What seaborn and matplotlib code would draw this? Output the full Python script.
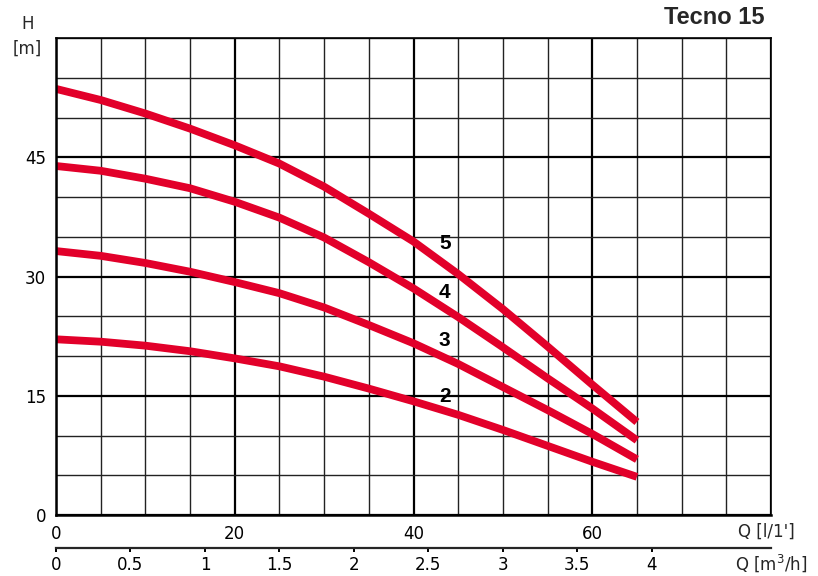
import matplotlib
matplotlib.use("Agg")
import matplotlib.pyplot as plt
import matplotlib.transforms as mtransforms
import seaborn as sns
import pandas as pd

# ---- data ----
flow_lpm = [0, 5, 10, 15, 20, 25, 30, 35, 40, 45, 50, 55, 60, 65]
head_5 = [53.6, 52.2, 50.5, 48.6, 46.5, 44.2, 41.3, 37.9, 34.4, 30.3, 25.9, 21.2, 16.4, 11.7]
head_4 = [43.9, 43.3, 42.3, 41.1, 39.4, 37.4, 34.9, 31.8, 28.5, 24.9, 21.1, 17.2, 13.4, 9.4]
head_3 = [33.2, 32.6, 31.7, 30.6, 29.3, 27.9, 26.1, 23.9, 21.6, 19.0, 16.1, 13.2, 10.2, 7.0]
head_2 = [22.1, 21.8, 21.3, 20.6, 19.7, 18.7, 17.4, 15.9, 14.3, 12.6, 10.7, 8.7, 6.7, 4.8]
curve_names = ["5", "4", "3", "2"]
x_ticks_lpm = [0, 20, 40, 60, 80]
x_tick_labels = ["0", "20", "40", "60", ""]
y_ticks = [0, 15, 30, 45]
m3h_ticks = [0, 0.5, 1, 1.5, 2, 2.5, 3, 3.5, 4]
m3h_tick_labels = ["0", "0.5", "1", "1.5", "2", "2.5", "3", "3.5", "4"]
label_pos = {"5": (43.5, 34.2), "4": (43.5, 28.0), "3": (43.5, 22.0), "2": (43.5, 14.9)}
title = "Tecno 15"

rows = []
for name, vals in zip(curve_names, [head_5, head_4, head_3, head_2]):
    for q, h in zip(flow_lpm, vals):
        rows.append({"Q": q, "H": h, "curve": name})
df = pd.DataFrame(rows)

sns.set_style("white")
plt.rcParams["font.family"] = ["DejaVu Sans"]
bold_font = ["Liberation Sans", "DejaVu Sans"]

fig = plt.figure(figsize=(8.18, 5.76), dpi=100)
ax = fig.add_axes([56 / 818, 1 - 515 / 576, 715 / 818, 477 / 576])

ax.set_xlim(0, 80)
ax.set_ylim(0, 60)

# grid
ax.set_xticks(x_ticks_lpm)
ax.set_xticklabels(x_tick_labels)
ax.set_xticks(range(0, 81, 5), minor=True)
ax.set_yticks(y_ticks)
ax.set_yticks(range(0, 61, 5), minor=True)
ax.grid(which="major", color="black", linewidth=1.6)
ax.grid(which="minor", color="#222222", linewidth=1.0)
ax.set_axisbelow(True)

red = "#e2002a"
sns.lineplot(data=df, x="Q", y="H", hue="curve", units="curve", estimator=None,
             palette={n: red for n in curve_names}, linewidth=5.6, legend=False,
             ax=ax, sort=False, solid_capstyle="butt", solid_joinstyle="round")
ax.set_xlabel("")
ax.set_ylabel("")

for name, (lx, ly) in label_pos.items():
    ax.text(lx, ly, name, fontsize=15, fontweight="bold", ha="center", va="center",
            color="black", zorder=5, family=bold_font)

for s in ["left", "bottom"]:
    ax.spines[s].set_linewidth(1.8)
    ax.spines[s].set_color("black")
for s in ["top", "right"]:
    ax.spines[s].set_linewidth(1.2)
    ax.spines[s].set_color("black")

ax.tick_params(which="major", direction="out", length=5, width=1.6, labelsize=12,
               colors="black", pad=2)
ax.tick_params(which="minor", length=0)
ax.tick_params(axis="x", which="major", length=4, pad=3)

# secondary axis in m3/h
sec = ax.secondary_xaxis(-0.0686, functions=(lambda q: q * 0.06, lambda m: m / 0.06))
sec.set_xticks(m3h_ticks)
sec.set_xticklabels(m3h_tick_labels)
sec.tick_params(direction="out", length=3, width=1.4, labelsize=12, pad=3, colors="black")
sec.spines["bottom"].set_linewidth(1.6)

trans = mtransforms.blended_transform_factory(ax.transData, ax.transAxes)
ax.text(79.5, -0.036, "Q [l/1']", transform=trans, fontsize=12, ha="center", va="center")
ax.text(80, -0.102, "Q [m$^3$/h]", transform=trans, fontsize=12, ha="center", va="center")

ax.text(-0.039, 1.030, "H", transform=ax.transAxes, fontsize=12, ha="center", va="center")
ax.text(-0.040, 0.978, "[m]", transform=ax.transAxes, fontsize=12, ha="center", va="center")
ax.text(0.9916, 1.044, title, transform=ax.transAxes, fontsize=17, fontweight="bold",
        ha="right", va="center", family=bold_font)

fig.savefig("out.png", dpi=100)
